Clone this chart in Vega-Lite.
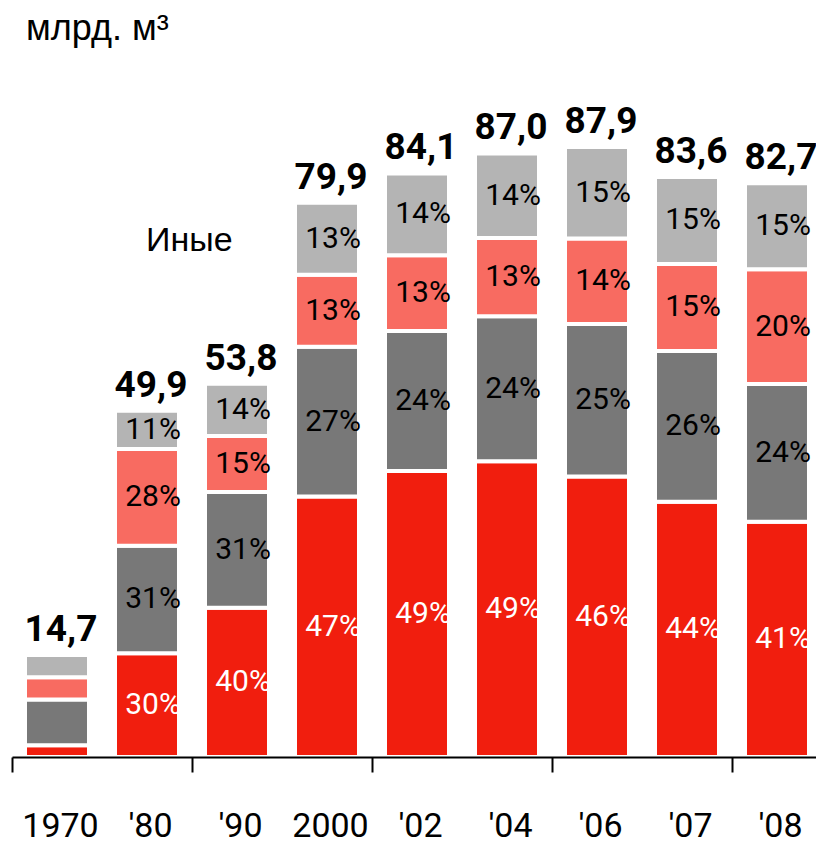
{
  "$schema": "https://vega.github.io/schema/vega-lite/v6.json",
  "width": 804,
  "height": 707,
  "autosize": {"type": "none"},
  "padding": {"left": 12, "top": 50, "right": 0, "bottom": 87},
  "background": "white",
  "title": {"text": "млрд. м³", "anchor": "start", "frame": "group", "font": "Liberation Sans", "fontSize": 36, "fontWeight": "normal", "color": "black", "baseline": "alphabetic", "offset": -26, "dx": 14},
  "datasets": {
    "segments": [
      {"year": "1970", "k": 1, "series": "a", "value": 1.7, "label": ""},
      {"year": "1970", "k": 2, "series": "b", "value": 6.6, "label": ""},
      {"year": "1970", "k": 3, "series": "c", "value": 3.2, "label": ""},
      {"year": "1970", "k": 4, "series": "Иные", "value": 3.2, "label": ""},
      {"year": "'80", "k": 1, "series": "a", "value": 14.97, "label": "30%"},
      {"year": "'80", "k": 2, "series": "b", "value": 15.47, "label": "31%"},
      {"year": "'80", "k": 3, "series": "c", "value": 13.97, "label": "28%"},
      {"year": "'80", "k": 4, "series": "Иные", "value": 5.49, "label": "11%"},
      {"year": "'90", "k": 1, "series": "a", "value": 21.52, "label": "40%"},
      {"year": "'90", "k": 2, "series": "b", "value": 16.68, "label": "31%"},
      {"year": "'90", "k": 3, "series": "c", "value": 8.07, "label": "15%"},
      {"year": "'90", "k": 4, "series": "Иные", "value": 7.53, "label": "14%"},
      {"year": "2000", "k": 1, "series": "a", "value": 37.55, "label": "47%"},
      {"year": "2000", "k": 2, "series": "b", "value": 21.57, "label": "27%"},
      {"year": "2000", "k": 3, "series": "c", "value": 10.39, "label": "13%"},
      {"year": "2000", "k": 4, "series": "Иные", "value": 10.39, "label": "13%"},
      {"year": "'02", "k": 1, "series": "a", "value": 41.21, "label": "49%"},
      {"year": "'02", "k": 2, "series": "b", "value": 20.18, "label": "24%"},
      {"year": "'02", "k": 3, "series": "c", "value": 10.93, "label": "13%"},
      {"year": "'02", "k": 4, "series": "Иные", "value": 11.77, "label": "14%"},
      {"year": "'04", "k": 1, "series": "a", "value": 42.63, "label": "49%"},
      {"year": "'04", "k": 2, "series": "b", "value": 20.88, "label": "24%"},
      {"year": "'04", "k": 3, "series": "c", "value": 11.31, "label": "13%"},
      {"year": "'04", "k": 4, "series": "Иные", "value": 12.18, "label": "14%"},
      {"year": "'06", "k": 1, "series": "a", "value": 40.43, "label": "46%"},
      {"year": "'06", "k": 2, "series": "b", "value": 21.98, "label": "25%"},
      {"year": "'06", "k": 3, "series": "c", "value": 12.31, "label": "14%"},
      {"year": "'06", "k": 4, "series": "Иные", "value": 13.19, "label": "15%"},
      {"year": "'07", "k": 1, "series": "a", "value": 36.78, "label": "44%"},
      {"year": "'07", "k": 2, "series": "b", "value": 21.74, "label": "26%"},
      {"year": "'07", "k": 3, "series": "c", "value": 12.54, "label": "15%"},
      {"year": "'07", "k": 4, "series": "Иные", "value": 12.54, "label": "15%"},
      {"year": "'08", "k": 1, "series": "a", "value": 33.91, "label": "41%"},
      {"year": "'08", "k": 2, "series": "b", "value": 19.85, "label": "24%"},
      {"year": "'08", "k": 3, "series": "c", "value": 16.54, "label": "20%"},
      {"year": "'08", "k": 4, "series": "Иные", "value": 12.41, "label": "15%"}
    ],
    "totals": [
      {"year": "1970", "total": 14.7, "label": "14,7"},
      {"year": "'80", "total": 49.9, "label": "49,9"},
      {"year": "'90", "total": 53.8, "label": "53,8"},
      {"year": "2000", "total": 79.9, "label": "79,9"},
      {"year": "'02", "total": 84.1, "label": "84,1"},
      {"year": "'04", "total": 87.0, "label": "87,0"},
      {"year": "'06", "total": 87.9, "label": "87,9"},
      {"year": "'07", "total": 83.6, "label": "83,6"},
      {"year": "'08", "total": 82.7, "label": "82,7"}
    ]
  },
  "layer": [
    {
      "data": {"name": "segments"},
      "mark": {"type": "bar", "width": {"band": 0.711}, "stroke": "white", "strokeWidth": 4},
      "encoding": {
        "x": {
          "field": "year", "type": "nominal",
          "scale": {"domain": ["1970", "'80", "'90", "2000", "'02", "'04", "'06", "'07", "'08"], "range": [0, 810], "paddingInner": 0, "paddingOuter": 0},
          "axis": {
            "title": null, "domainColor": "black", "domainWidth": 2,
            "tickOffset": -45,
            "tickSize": 15, "tickWidth": 2, "tickColor": "black",
            "tickOpacity": {"condition": {"test": "indexof(['1970', \"'90\", \"'02\", \"'06\", \"'08\"], datum.value) >= 0", "value": 1}, "value": 0},
            "labelFont": "Roboto", "labelFontSize": 34, "labelColor": "black", "labelAngle": 0,
            "labelBaseline": "alphabetic", "labelPadding": 64, "labelOffset": 48, "zindex": 1, "grid": false
          }
        },
        "y": {"field": "value", "type": "quantitative", "stack": "zero", "scale": {"domain": [0, 101.9], "nice": false}, "axis": null},
        "color": {"field": "series", "type": "nominal", "scale": {"domain": ["a", "b", "c", "Иные"], "range": ["#f11e0e", "#787878", "#f86b61", "#b4b4b4"]}, "legend": null},
        "order": {"field": "k", "type": "quantitative", "sort": "ascending"}
      }
    },
    {
      "data": {"name": "segments"},
      "transform": [
        {"stack": "value", "groupby": ["year"], "sort": [{"field": "k", "order": "ascending"}], "as": ["v0", "v1"]},
        {"calculate": "(datum.v0 + datum.v1) / 2", "as": "mid"}
      ],
      "mark": {"type": "text", "font": "Roboto", "fontSize": 30, "baseline": "middle", "align": "center", "dx": 6},
      "encoding": {
        "x": {"field": "year", "type": "nominal"},
        "y": {"field": "mid", "type": "quantitative"},
        "text": {"field": "label"},
        "color": {"condition": {"test": "datum.series === 'a'", "value": "white"}, "value": "black"}
      }
    },
    {
      "data": {"name": "totals"},
      "mark": {"type": "text", "font": "Roboto", "fontSize": 37, "fontWeight": "bold", "baseline": "alphabetic", "align": "center", "dx": 4, "dy": -14, "color": "black"},
      "encoding": {
        "x": {"field": "year", "type": "nominal"},
        "y": {"field": "total", "type": "quantitative"},
        "text": {"field": "label"}
      }
    },
    {
      "data": {"values": [{"t": "Иные"}]},
      "mark": {"type": "text", "font": "Liberation Sans", "fontSize": 34, "baseline": "alphabetic", "align": "left", "dx": -1, "color": "black"},
      "encoding": {
        "x": {"datum": "'80"},
        "y": {"datum": 73},
        "text": {"field": "t"}
      }
    }
  ],
  "config": {"view": {"stroke": null}}
}
